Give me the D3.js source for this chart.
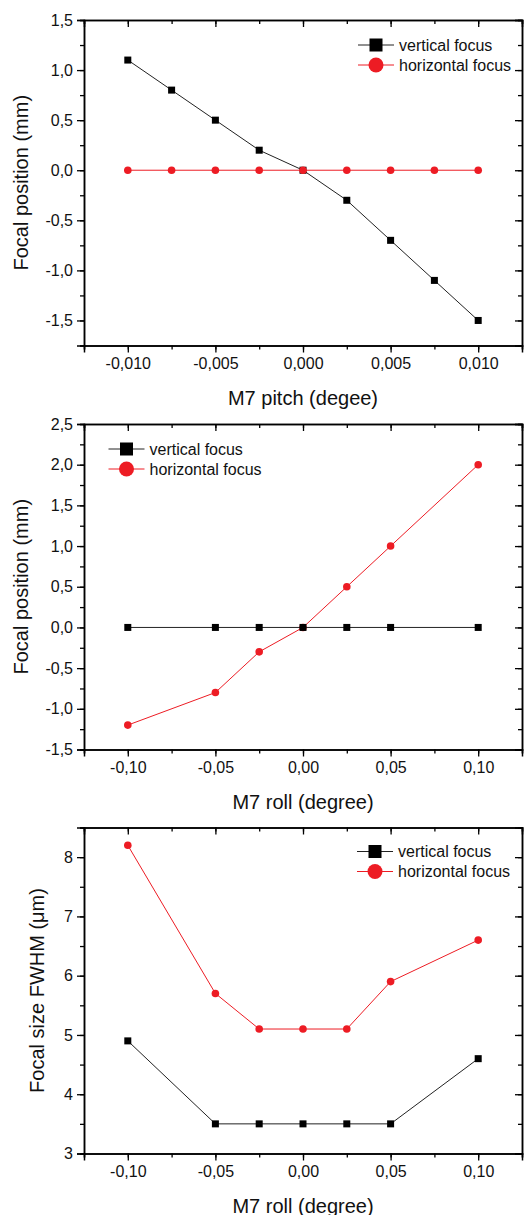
<!DOCTYPE html>
<html><head><meta charset="utf-8">
<script src="https://cdn.jsdelivr.net/npm/d3@7"></script>
<style>
body{margin:0;background:#fff;}
text{font-family:"Liberation Sans",Arial,sans-serif;fill:#111;}
</style></head>
<body><svg id="c" width="529" height="1215"></svg>
<script>
// ---- data ----
const pitchX = [-0.01, -0.0075, -0.005, -0.0025, 0, 0.0025, 0.005, 0.0075, 0.01];
const pitchVertical = [1.1, 0.8, 0.5, 0.2, 0, -0.3, -0.7, -1.1, -1.5];
const pitchHorizontal = [0, 0, 0, 0, 0, 0, 0, 0, 0];

const rollX = [-0.1, -0.05, -0.025, 0, 0.025, 0.05, 0.1];
const rollVertical = [0, 0, 0, 0, 0, 0, 0];
const rollHorizontal = [-1.2, -0.8, -0.3, 0, 0.5, 1.0, 2.0];

const sizeX = [-0.1, -0.05, -0.025, 0, 0.025, 0.05, 0.1];
const sizeVertical = [4.9, 3.5, 3.5, 3.5, 3.5, 3.5, 4.6];
const sizeHorizontal = [8.2, 5.7, 5.1, 5.1, 5.1, 5.9, 6.6];

const seriesNames = ["vertical focus", "horizontal focus"];
const pitchXTicks = [-0.01, -0.005, 0, 0.005, 0.01];
const pitchYTicks = [-1.5, -1.0, -0.5, 0, 0.5, 1.0, 1.5];
const rollXTicks = [-0.1, -0.05, 0, 0.05, 0.1];
const rollYTicks = [-1.5, -1.0, -0.5, 0, 0.5, 1.0, 1.5, 2.0, 2.5];
const sizeYTicks = [3, 4, 5, 6, 7, 8];

const BLACK = "#000", RED = "#ed1c24";
const svg = d3.select("#c");
const comma = (s) => s.replace(".", ",").replace("−", "-");

function panel(o) {
  const g = svg.append("g");
  const x = d3.scaleLinear().domain(o.xDomain).range([84, 522]);
  const y = d3.scaleLinear().domain(o.yDomain).range([o.bottom, o.top]);
  const xMinor = d3.range(o.xDomain[0], o.xDomain[1] + 1e-9, o.xMinorStep);
  const yMinor = d3.range(o.yDomain[0], o.yDomain[1] + 1e-9, o.yMinorStep);

  // bottom axis (outward ticks)
  const bx = g.append("g").attr("transform", `translate(0,${o.bottom})`);
  bx.call(d3.axisBottom(x).tickValues(xMinor).tickSize(4).tickFormat(""));
  bx.call(g2 => g2.append("g").call(d3.axisBottom(x).tickValues(o.xTicks).tickSize(7).tickPadding(5).tickFormat(d => comma(o.xFmt(d)))));
  // left axis (outward ticks)
  const ly = g.append("g").attr("transform", `translate(84,0)`);
  ly.call(d3.axisLeft(y).tickValues(yMinor).tickSize(4).tickFormat(""));
  ly.call(g2 => g2.append("g").call(d3.axisLeft(y).tickValues(o.yTicks).tickSize(7).tickPadding(4).tickFormat(d => comma(o.yFmt(d)))));
  // top axis (inward)
  const tx = g.append("g").attr("transform", `translate(0,${o.top})`);
  tx.call(d3.axisTop(x).tickValues(xMinor).tickSize(-4).tickFormat(""));
  tx.call(g2 => g2.append("g").call(d3.axisTop(x).tickValues(o.xTicks).tickSize(-7).tickFormat("")));
  // right axis (inward)
  const ry = g.append("g").attr("transform", `translate(522,0)`);
  ry.call(d3.axisRight(y).tickValues(yMinor).tickSize(-4).tickFormat(""));
  ry.call(g2 => g2.append("g").call(d3.axisRight(y).tickValues(o.yTicks).tickSize(-7).tickFormat("")));

  g.selectAll(".domain").attr("stroke", "#000").attr("stroke-width", 1.5);
  g.selectAll(".tick line").attr("stroke", "#000").attr("stroke-width", 1.3);
  g.selectAll(".tick text").attr("font-size", 16).attr("font-family", "Liberation Sans, Arial, sans-serif").attr("fill", "#111");

  // series
  const line = d3.line().x(d => x(d[0])).y(d => y(d[1]));
  const sV = o.xs.map((v, i) => [v, o.vertical[i]]);
  const sH = o.xs.map((v, i) => [v, o.horizontal[i]]);
  const drawOrder = o.redFirst ? ["h", "v"] : ["v", "h"];
  drawOrder.forEach(k => {
    if (k === "v") {
      g.append("path").datum(sV).attr("d", line).attr("fill", "none").attr("stroke", "#222").attr("stroke-width", 1);
      g.selectAll(null).data(sV).enter().append("rect")
        .attr("x", d => x(d[0]) - 3.5).attr("y", d => y(d[1]) - 3.5)
        .attr("width", 7).attr("height", 7).attr("fill", BLACK);
    } else {
      g.append("path").datum(sH).attr("d", line).attr("fill", "none").attr("stroke", RED).attr("stroke-width", 1);
      g.selectAll(null).data(sH).enter().append("circle")
        .attr("cx", d => x(d[0])).attr("cy", d => y(d[1])).attr("r", 3.8).attr("fill", RED);
    }
  });

  // legend
  const lg = g.append("g");
  [0, 1].forEach(i => {
    const yy = o.legY + i * 20;
    const col = i === 0 ? "#222" : RED;
    lg.append("line").attr("x1", o.legX - 18).attr("x2", o.legX + 18).attr("y1", yy).attr("y2", yy)
      .attr("stroke", col).attr("stroke-width", 1);
    if (i === 0) lg.append("rect").attr("x", o.legX - 6.5).attr("y", yy - 6.5).attr("width", 13).attr("height", 13).attr("fill", BLACK);
    else lg.append("circle").attr("cx", o.legX).attr("cy", yy).attr("r", 7.5).attr("fill", RED);
    lg.append("text").attr("x", o.legX + 23).attr("y", yy).attr("dy", "0.35em").attr("font-size", 16).text(seriesNames[i]);
  });

  // titles
  g.append("text").attr("x", 303).attr("y", o.bottom + 52).attr("dy", "0.35em")
    .attr("text-anchor", "middle").attr("font-size", 20).text(o.xTitle);
  g.append("text").attr("transform", `translate(${o.yTitleX},${(o.top + o.bottom) / 2}) rotate(-90)`)
    .attr("dy", "0.35em").attr("text-anchor", "middle").attr("font-size", 20).text(o.yTitle);
}

panel({
  top: 20, bottom: 345.5, xDomain: [-0.0125, 0.0125], yDomain: [-1.75, 1.5],
  xMinorStep: 0.0025, yMinorStep: 0.25, xTicks: pitchXTicks, yTicks: pitchYTicks,
  xFmt: d3.format(".3f"), yFmt: d3.format(".1f"),
  xs: pitchX, vertical: pitchVertical, horizontal: pitchHorizontal,
  legX: 376, legY: 45, xTitle: "M7 pitch (degee)", yTitle: "Focal position (mm)", yTitleX: 21
});
panel({
  top: 424, bottom: 749.5, xDomain: [-0.125, 0.125], yDomain: [-1.5, 2.5],
  xMinorStep: 0.025, yMinorStep: 0.25, xTicks: rollXTicks, yTicks: rollYTicks,
  xFmt: d3.format(".2f"), yFmt: d3.format(".1f"),
  xs: rollX, vertical: rollVertical, horizontal: rollHorizontal, redFirst: true,
  legX: 126.5, legY: 449, xTitle: "M7 roll (degree)", yTitle: "Focal position (mm)", yTitleX: 21
});
panel({
  top: 827.5, bottom: 1153.5, xDomain: [-0.125, 0.125], yDomain: [3, 8.5],
  xMinorStep: 0.025, yMinorStep: 0.5, xTicks: rollXTicks, yTicks: sizeYTicks,
  xFmt: d3.format(".2f"), yFmt: d3.format("d"),
  xs: sizeX, vertical: sizeVertical, horizontal: sizeHorizontal,
  legX: 375, legY: 851.5, xTitle: "M7 roll (degree)", yTitle: "Focal size FWHM (\u03bcm)", yTitleX: 37
});
</script></body></html>
